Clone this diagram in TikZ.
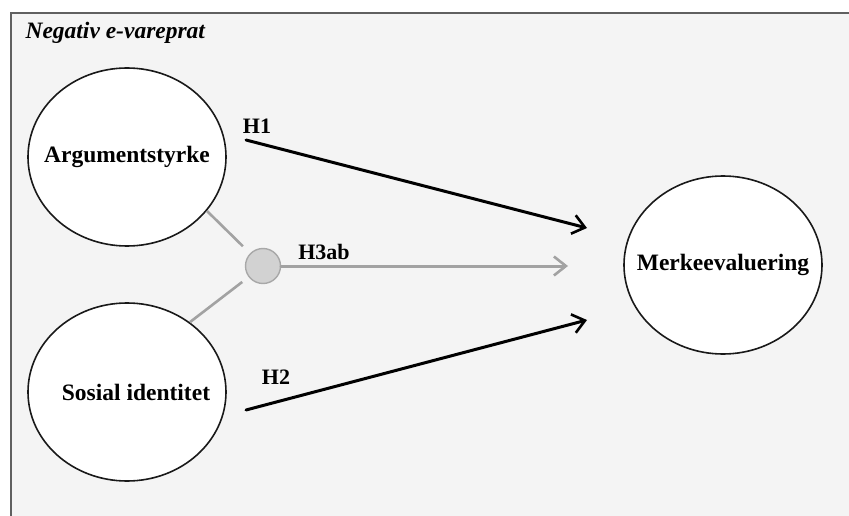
\documentclass[tikz,border=0pt]{standalone}
\usepackage{fontspec}
\setmainfont{Liberation Serif}
\usetikzlibrary{arrows.meta,shapes.geometric}
\definecolor{paneg}{HTML}{F4F4F4}
\definecolor{frm}{HTML}{606060}
\definecolor{grayln}{HTML}{A2A2A2}
\definecolor{modfill}{HTML}{D2D2D2}
\definecolor{modedge}{HTML}{A8A8A8}
\tikzset{
  var/.style={ellipse,draw=black!90,fill=white,line width=1.6pt,minimum width=198pt,
    minimum height=178pt,inner sep=-40pt,font=\fontsize{23.5}{28}\selectfont\bfseries},
  mdr/.style={circle,draw=modedge,fill=modfill,line width=1.4pt,minimum size=35pt,inner sep=0pt},
  lnk/.style={draw=grayln,line width=2.6pt},
  eff/.style={-{Straight Barb[length=12pt,width=19pt,line width=2.6pt]},line width=3pt,draw=black,line cap=round},
  effg/.style={eff,draw=grayln},
  lb/.style={font=\fontsize{22}{26}\selectfont\bfseries},
  tb/.style={font=\fontsize{23.5}{28}\selectfont\bfseries\itshape},
}
\begin{document}
\begin{tikzpicture}[x=1pt,y=-1pt]
\useasboundingbox (0,0) rectangle (849,516);
\fill[white] (0,0) rectangle (849,516);
% ---------------- the panel
\draw[draw=frm,line width=2.4pt,fill=paneg] (11,13) rectangle (880,560);
\node[tb,anchor=west] (title) at (22,33) {Negativ e-vareprat};
% ---------------- the variables
\node[var] (arg) at (127,157) {Argumentstyrke};
\node[var] (sos) at (127,392) {\hspace*{18pt}Sosial identitet};
\node[var] (merke) at (723,265) {Merkeevaluering};
\node[mdr] (mod) at (263,266) {};
% ---------------- moderation
\draw[lnk,shorten >=10pt] (arg.-34) -- (mod);
\draw[lnk,shorten >=8pt] (sos.48) -- (mod);
\coordinate (h3e) at (568,266);
\draw[effg] (mod) -- (h3e);
\node[lb] (h3lab) at (324,252) {H3ab};
% ---------------- direct effects
\coordinate (h1s) at (246,140); \coordinate (h1e) at (587,228);
\coordinate (h2s) at (246,410); \coordinate (h2e) at (587,320);
\draw[eff] (h1s) -- (h1e);
\draw[eff] (h2s) -- (h2e);
\node[lb] (h1lab) at (257,126) {H1};
\node[lb] (h2lab) at (276,377) {H2};
\end{tikzpicture}
\end{document}
